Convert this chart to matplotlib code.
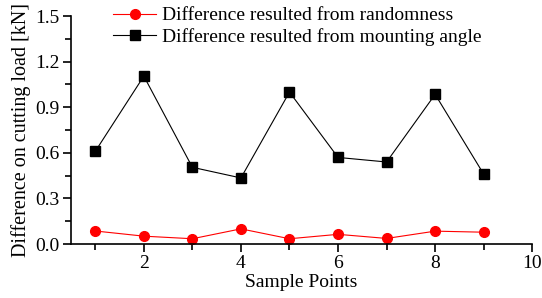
import matplotlib
matplotlib.use("Agg")
import matplotlib.pyplot as plt
from matplotlib.ticker import MultipleLocator

plt.rcParams["font.family"] = ["Liberation Serif", "DejaVu Serif"]
plt.rcParams["font.size"] = 14

points = [1, 2, 3, 4, 5, 6, 7, 8, 9]
diff_random = [0.086, 0.052, 0.035, 0.100, 0.035, 0.064, 0.037, 0.085, 0.078]
diff_angle = [0.61, 1.105, 0.505, 0.435, 1.0, 0.57, 0.54, 0.985, 0.46]

fig, ax = plt.subplots(figsize=(5.42, 2.98), dpi=100)
fig.subplots_adjust(left=0.131, right=0.982, bottom=0.181, top=0.946)

ax.plot(points, diff_random, color="red", lw=0.8, marker="o", ms=7,
        label="Difference resulted from randomness")
ax.plot(points, diff_angle, color="black", lw=0.8, marker="s", ms=6.5,
        label="Difference resulted from mounting angle")

ax.set_xlim(0.5, 10)
ax.set_ylim(0, 1.5)
ax.xaxis.set_major_locator(MultipleLocator(2))
ax.xaxis.set_minor_locator(MultipleLocator(1))
ax.yaxis.set_major_locator(MultipleLocator(0.3))
ax.yaxis.set_minor_locator(MultipleLocator(0.15))
ax.yaxis.set_major_formatter(plt.FormatStrFormatter("%.1f"))
ax.tick_params(which="both", direction="out", width=1.2, labelsize=14)
ax.tick_params(which="major", length=6, pad=2)
ax.tick_params(which="minor", length=4)
ax.spines["top"].set_visible(False)
ax.spines["right"].set_visible(False)
for s in ("left", "bottom"):
    ax.spines[s].set_linewidth(1.2)

ax.set_xlabel("Sample Points", fontsize=14, labelpad=1.5)
ax.set_ylabel("Difference on cutting load [kN]", fontsize=14.5, labelpad=3)
ax.legend(loc="upper left", bbox_to_anchor=(0.075, 1.075), frameon=False,
          fontsize=14, handlelength=2.2, handletextpad=0.3,
          borderaxespad=0, labelspacing=0.2)

plt.savefig("out.png", dpi=100)
